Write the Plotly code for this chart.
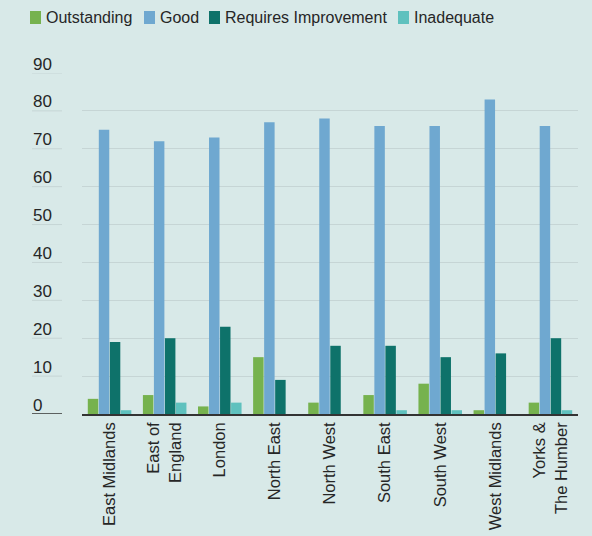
import plotly.graph_objects as go

# Regions (x categories) and inspection outcome shares (%)
regions = ["East Midlands", "East of<br>England", "London", "North East", "North West",
           "South East", "South West", "West Midlands", "Yorks &<br>The Humber"]
outstanding = [4, 5, 2, 15, 3, 5, 8, 1, 3]
good = [75, 72, 73, 77, 78, 76, 76, 83, 76]
requires_improvement = [19, 20, 23, 9, 18, 18, 15, 16, 20]
inadequate = [1, 3, 3, 0, 0, 1, 1, 0, 1]

series_names = ["Outstanding", "Good", "Requires Improvement", "Inadequate"]
series_values = [outstanding, good, requires_improvement, inadequate]
series_colors = ["#76b24e", "#6fa8d0", "#0e726a", "#5fc1be"]

y_ticks = [0, 10, 20, 30, 40, 50, 60, 70, 80, 90]

BG = "#d8e9e8"
GRID = "#c6d5d5"
TEXT = "#262626"
FONT = "Liberation Sans, Arial, sans-serif"

W, H = 592, 536
ML, MR, MT, MB = 82, 14, 73, 122
PW = W - ML - MR
PH = H - MT - MB


def px_to_paper_x(px):
    return (px - ML) / PW


def px_to_paper_y(py):
    return (H - MB - py) / PH


fig = go.Figure()
for name, vals, color in zip(series_names, series_values, series_colors):
    fig.add_trace(go.Bar(x=regions, y=vals, name=name, marker_color=color,
                         marker_line_width=0, showlegend=False))

shapes = []
annotations = []

# y tick labels sitting above short rules to the left of the plot
for v in y_ticks:
    shapes.append(dict(type="line", xref="paper", yref="y",
                       x0=px_to_paper_x(32), x1=px_to_paper_x(62), y0=v, y1=v,
                       line=dict(color="#333333" if v == 0 else GRID,
                                 width=1.5 if v == 0 else 1)))
    annotations.append(dict(xref="paper", yref="y", x=px_to_paper_x(31), y=v,
                            xanchor="left", yanchor="middle", yshift=9,
                            text=str(v), showarrow=False,
                            font=dict(family=FONT, size=17, color=TEXT)))

# legend: coloured squares with labels across the top
legend_x = [30, 144, 209, 398]
for name, color, lx in zip(series_names, series_colors, legend_x):
    shapes.append(dict(type="rect", xref="paper", yref="paper",
                       x0=px_to_paper_x(lx), x1=px_to_paper_x(lx + 11),
                       y0=px_to_paper_y(24), y1=px_to_paper_y(11),
                       fillcolor=color, line=dict(width=0)))
    annotations.append(dict(xref="paper", yref="paper", x=px_to_paper_x(lx + 14),
                            y=px_to_paper_y(18), xanchor="left", yanchor="middle",
                            text=name, showarrow=False,
                            font=dict(family=FONT, size=16, color=TEXT)))

fig.update_layout(
    width=W, height=H,
    margin=dict(l=ML, r=MR, t=MT, b=MB, pad=0, autoexpand=False),
    paper_bgcolor=BG, plot_bgcolor=BG,
    barmode="group", bargap=0.2, bargroupgap=0.05,
    font=dict(family=FONT, size=16, color=TEXT),
    shapes=shapes, annotations=annotations,
    xaxis=dict(tickangle=-90, showgrid=False, showline=True, linecolor="#333333",
               linewidth=1.5, ticks="", tickfont=dict(size=16.5, color=TEXT),
               ticklabelstandoff=0, automargin=False),
    yaxis=dict(range=[0, 90], tickvals=y_ticks, showticklabels=False,
               showgrid=True, gridcolor=GRID, gridwidth=1, zeroline=False,
               fixedrange=True, automargin=False),
)

fig.write_html("out.html")
